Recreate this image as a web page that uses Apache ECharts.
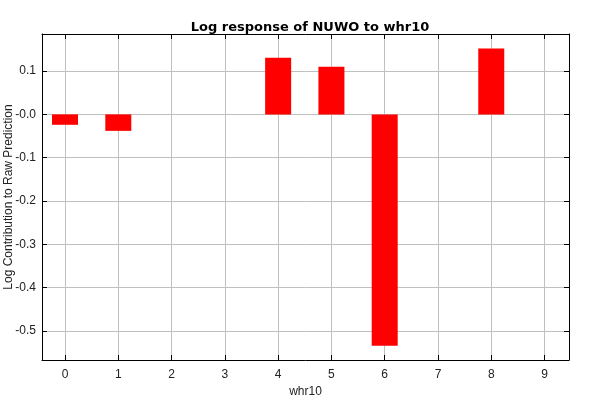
<!DOCTYPE html>
<html>
<head>
<meta charset="utf-8">
<script src="https://cdn.jsdelivr.net/npm/echarts@6/dist/echarts.min.js"></script>
<style>html,body{margin:0;padding:0;background:#fff}#c{width:600px;height:400px}</style>
</head>
<body>
<div id="c"></div>
<script>
var categories = [0, 1, 2, 3, 4, 5, 6, 7, 8, 9];
var values = [-0.024, -0.038, 0, 0, 0.131, 0.110, -0.534, 0, 0.152, 0];
var title = 'Log response of NUWO to whr10';
var xName = 'whr10';
var yName = 'Log Contribution to Raw Prediction';

var font = '"Liberation Sans", Arial, sans-serif';
var xMin = -0.432, xMax = 9.459, yMin = -0.567, yMax = 0.1856;

var chart = echarts.init(document.getElementById('c'), null, {renderer: 'canvas'});
function yFmt(v) {
  if (Math.abs(v) < 1e-9) return '-0.0';
  return v.toFixed(1);
}
var axLine = {show: true, onZero: false, lineStyle: {color: '#000', width: 1}};
var tick = {show: true, inside: true, length: 5, lineStyle: {color: '#000'}};
chart.setOption({
  animation: false,
  backgroundColor: '#ffffff',
  title: {
    text: title, left: 305, top: 16, textAlign: 'center',
    textStyle: {fontFamily: '"DejaVu Sans", sans-serif', fontSize: 13, fontWeight: 'bold', color: '#000'}
  },
  grid: {left: 42, right: 31, top: 34, bottom: 40, show: false, containLabel: false, outerBoundsMode: 'none'},
  xAxis: [{
    type: 'value', min: xMin, max: xMax, minInterval: 1, maxInterval: 1, splitNumber: 10,
    name: xName, nameLocation: 'middle', nameGap: 26, nameMoveOverlap: false,
    nameTextStyle: {fontFamily: font, fontSize: 12, color: '#222'},
    axisLine: axLine, axisTick: tick,
    axisLabel: {fontFamily: font, fontSize: 12, color: '#222', margin: 9, showMinLabel: false, showMaxLabel: false,
      formatter: function (v) { return String(categories[Math.round(v)]); }},
    splitLine: {show: true, lineStyle: {color: '#c0c0c0', width: 1}}
  }, {
    type: 'value', min: xMin, max: xMax, minInterval: 1, maxInterval: 1, splitNumber: 10, position: 'top',
    axisLine: axLine, axisTick: tick,
    axisLabel: {show: false}, splitLine: {show: false}
  }],
  yAxis: [{
    type: 'value', min: yMin, max: yMax, minInterval: 0.1, maxInterval: 0.1, splitNumber: 7,
    name: yName, nameLocation: 'middle', nameGap: 27, nameMoveOverlap: false,
    nameTextStyle: {fontFamily: font, fontSize: 12, color: '#222'},
    axisLine: axLine, axisTick: tick,
    axisLabel: {fontFamily: font, fontSize: 12, color: '#222', margin: 6, showMinLabel: false, showMaxLabel: false, formatter: yFmt},
    splitLine: {show: true, lineStyle: {color: '#c0c0c0', width: 1}}
  }, {
    type: 'value', min: yMin, max: yMax, minInterval: 0.1, maxInterval: 0.1, splitNumber: 7, position: 'right',
    axisLine: axLine, axisTick: tick,
    axisLabel: {show: false}, splitLine: {show: false}
  }],
  series: [{
    type: 'bar', xAxisIndex: 0, yAxisIndex: 0, barWidth: 26,
    itemStyle: {color: '#ff0000'},
    data: categories.map(function (c, i) { return [c, values[i]]; })
  }]
});
</script>
</body>
</html>
